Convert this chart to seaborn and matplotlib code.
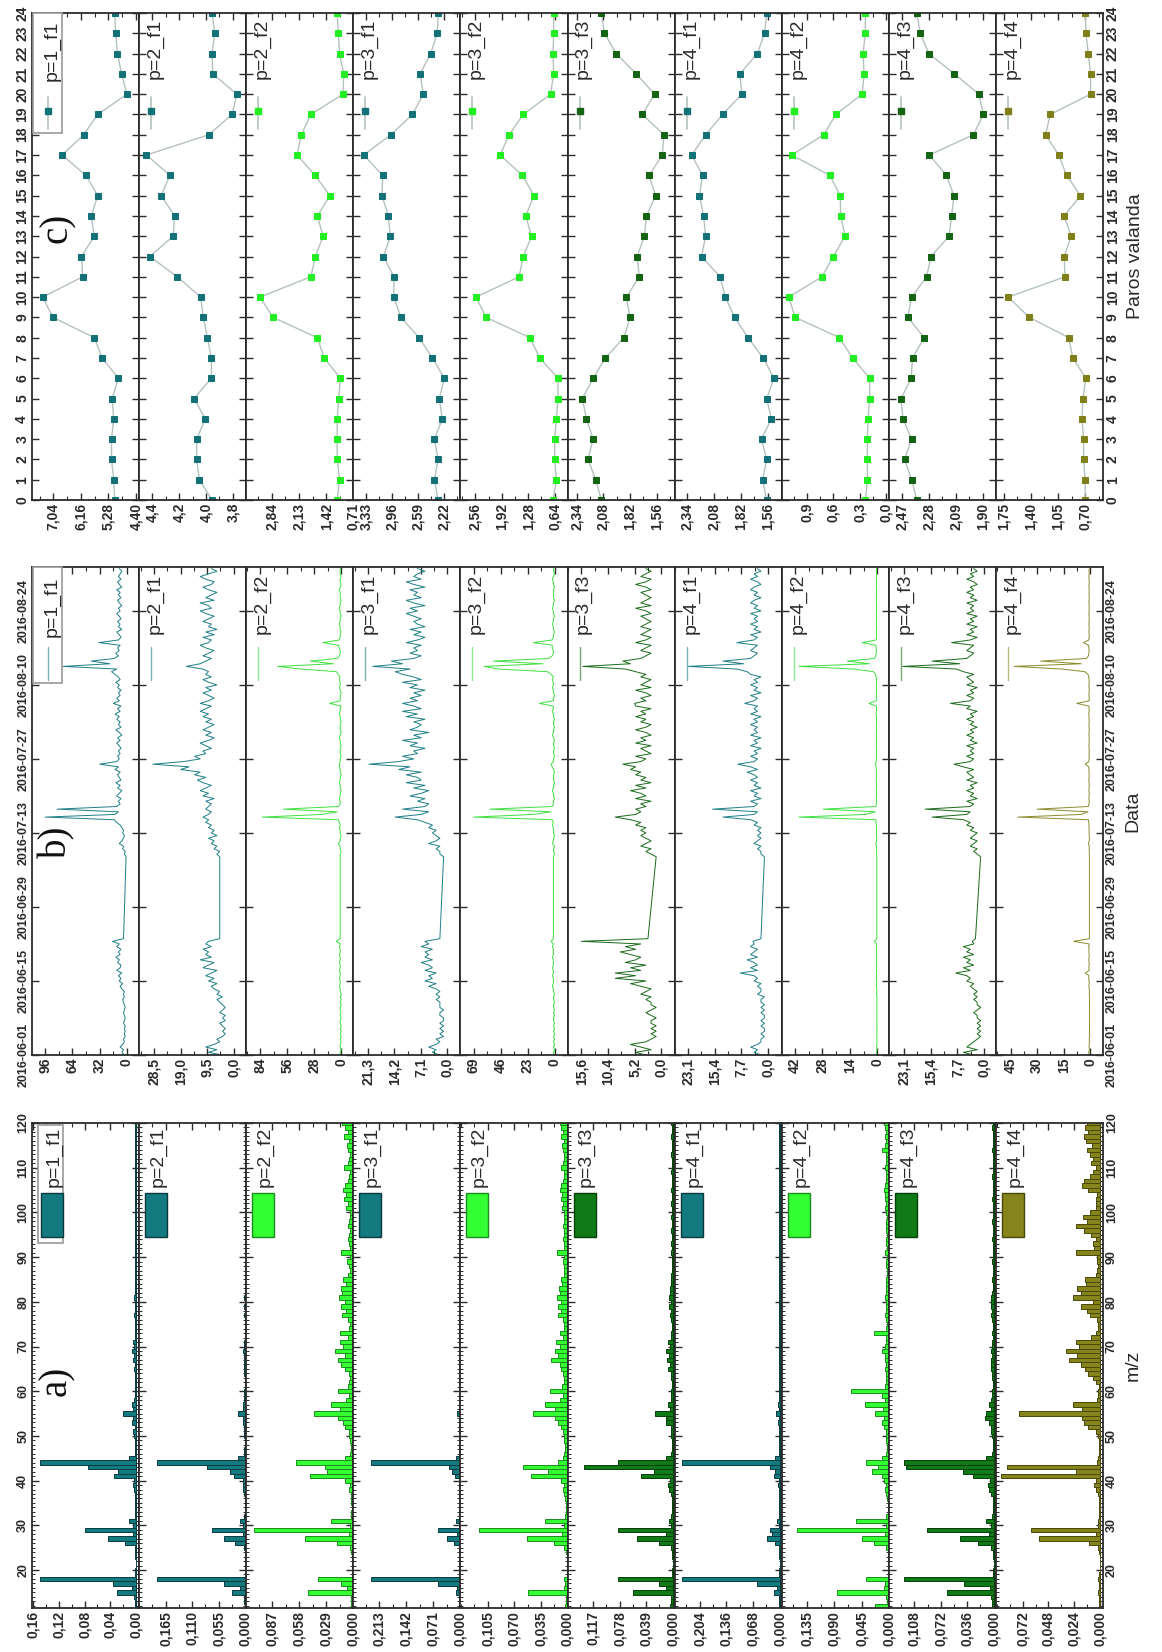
import numpy as np
import pandas as pd
import matplotlib
matplotlib.use("Agg")
import matplotlib.pyplot as plt
from matplotlib.patches import Rectangle
from matplotlib.ticker import AutoMinorLocator, MultipleLocator, NullLocator
import seaborn as sns

sns.set_style("ticks")
plt.rcParams["font.family"] = ["Liberation Sans", "DejaVu Sans"]
plt.rcParams["axes.linewidth"] = 1.3
plt.rcParams["axes.edgecolor"] = "#2b2b2b"

# ---------------- factor names ----------------
factor_names = ["p=1_f1", "p=2_f1", "p=2_f2", "p=3_f1", "p=3_f2",
                "p=3_f3", "p=4_f1", "p=4_f2", "p=4_f3", "p=4_f4"]
factor_kind = ["f1", "f1", "f2", "f1", "f2", "f3", "f1", "f2", "f3", "f4"]

bar_face = {"f1": "#137a80", "f2": "#33ff33", "f3": "#0f7a16", "f4": "#85851c"}
bar_edge = {"f1": "#0a3a3e", "f2": "#1c8c1c", "f3": "#063f0a", "f4": "#48480a"}
line_col = {"f1": "#1f7f86", "f2": "#3fe03f", "f3": "#1b6a1b", "f4": "#8b8b2c"}
mark_col = {"f1": "#137278", "f2": "#22ee22", "f3": "#146414", "f4": "#80801a"}

# ---------------- a) factor mass spectra ----------------
mz = list(range(12, 121))
spec_p1_f1 = [.001, .002, .003, .030, .006, .036, .150, .001, .001, .000,
              .000, .001, .001, .002, .017, .044, .004, .080, .004, .011,
              .002, .001, .001, .001, .001, .002, .003, .004, .003, .034,
              .028, .075, .150, .010, .002, .001, .001, .001, .003, .004,
              .002, .006, .004, .020, .004, .006, .003, .002, .002, .001,
              .001, .002, .002, .003, .002, .004, .003, .006, .003, .004,
              .001, .002, .001, .001, .001, .003, .001, .002, .002, .003,
              .002, .002, .001, .002, .001, .001, .001, .001, .001, .002,
              .001, .001, .001, .001, .001, .001, .001, .001, .001, .001,
              .001, .001, .001, .001, .001, .001, .001, .001, .001, .001,
              .001, .001, .001, .001, .001, .001, .001, .001, .001]
spec_p2_f1 = [.001, .002, .003, .028, .010, .045, .182, .001, .001, .000,
              .000, .001, .001, .002, .021, .045, .005, .069, .004, .010,
              .002, .001, .001, .001, .001, .002, .004, .005, .004, .024,
              .031, .079, .182, .014, .003, .002, .001, .001, .002, .003,
              .002, .005, .004, .016, .004, .005, .003, .002, .002, .001,
              .001, .001, .002, .002, .002, .003, .002, .004, .002, .003,
              .001, .001, .001, .001, .001, .002, .001, .002, .001, .002,
              .001, .001, .001, .001, .001, .001, .001, .001, .001, .001,
              .001, .001, .001, .001, .001, .001, .001, .001, .001, .001,
              .001, .001, .001, .001, .001, .001, .001, .001, .001, .001,
              .001, .001, .001, .001, .001, .001, .001, .001, .001]
spec_p2_f2 = [.003, .002, .002, .049, .007, .013, .038, .001, .001, .001,
              .000, .001, .002, .004, .018, .052, .005, .107, .004, .024,
              .003, .002, .001, .002, .002, .003, .005, .004, .009, .047,
              .028, .030, .062, .009, .004, .003, .003, .004, .005, .005,
              .009, .011, .016, .042, .014, .024, .008, .005, .016, .006,
              .005, .004, .005, .009, .013, .016, .009, .020, .011, .014,
              .006, .014, .005, .004, .006, .012, .008, .013, .009, .015,
              .012, .013, .008, .011, .006, .004, .005, .007, .004, .013,
              .004, .005, .006, .005, .004, .006, .005, .004, .004, .008,
              .006, .010, .008, .011, .009, .006, .005, .004, .010, .006,
              .005, .004, .006, .007, .005, .010, .006, .009, .012]
spec_p3_f1 = [.001, .002, .003, .010, .008, .058, .234, .001, .001, .000,
              .000, .001, .001, .002, .015, .034, .008, .058, .003, .010,
              .002, .001, .001, .001, .001, .002, .003, .004, .003, .012,
              .020, .029, .234, .010, .002, .001, .001, .001, .002, .003,
              .002, .004, .003, .008, .003, .004, .002, .001, .001, .001,
              .001, .001, .001, .002, .001, .002, .002, .003, .002, .002,
              .001, .001, .001, .001, .001, .001, .001, .001, .001, .002,
              .001, .001, .001, .001, .001, .001, .001, .001, .001, .001,
              .001, .001, .001, .001, .001, .001, .001, .001, .001, .001,
              .001, .001, .001, .001, .001, .001, .001, .001, .001, .001,
              .001, .001, .001, .001, .001, .001, .001, .001, .001]
spec_p3_f2 = [.003, .002, .002, .052, .004, .003, .005, .001, .001, .001,
              .000, .001, .002, .005, .018, .053, .007, .116, .005, .029,
              .003, .002, .002, .002, .003, .004, .006, .005, .008, .048,
              .026, .059, .012, .006, .004, .003, .003, .004, .005, .006,
              .008, .012, .016, .046, .017, .030, .010, .006, .023, .007,
              .005, .005, .006, .008, .010, .022, .012, .017, .010, .015,
              .006, .010, .005, .005, .006, .012, .008, .013, .008, .014,
              .010, .011, .007, .008, .005, .004, .005, .006, .004, .014,
              .004, .005, .006, .005, .004, .006, .005, .004, .004, .007,
              .006, .009, .007, .010, .008, .006, .005, .004, .009, .006,
              .005, .004, .006, .007, .005, .009, .006, .008, .010]
spec_p3_f3 = [.004, .002, .003, .058, .010, .020, .081, .001, .001, .000,
              .000, .001, .001, .003, .020, .053, .010, .081, .003, .005,
              .002, .001, .001, .001, .001, .002, .005, .006, .004, .047,
              .028, .131, .081, .010, .002, .001, .001, .001, .002, .003,
              .003, .010, .010, .026, .004, .006, .003, .002, .002, .001,
              .001, .002, .002, .006, .004, .008, .005, .010, .004, .006,
              .002, .002, .001, .001, .002, .004, .002, .005, .003, .005,
              .004, .004, .002, .003, .002, .001, .001, .001, .001, .002,
              .001, .002, .001, .001, .002, .001, .001, .002, .001, .001,
              .002, .001, .001, .002, .001, .001, .001, .002, .001, .001,
              .001, .002, .001, .001, .001, .002, .001, .001, .002]
spec_p4_f1 = [.001, .002, .003, .015, .008, .059, .250, .001, .001, .000,
              .000, .001, .001, .002, .012, .033, .020, .026, .003, .008,
              .002, .001, .001, .001, .001, .002, .003, .004, .003, .015,
              .012, .025, .250, .012, .002, .001, .001, .001, .002, .003,
              .002, .004, .003, .010, .003, .004, .002, .001, .001, .001,
              .001, .001, .001, .002, .001, .002, .002, .003, .002, .002,
              .001, .001, .001, .001, .001, .001, .001, .001, .001, .001,
              .001, .001, .001, .001, .001, .001, .001, .001, .001, .001,
              .001, .001, .001, .001, .001, .001, .001, .001, .001, .001,
              .001, .001, .001, .001, .001, .001, .001, .001, .001, .001,
              .001, .001, .001, .001, .001, .001, .001, .001, .001]
spec_p4_f2 = [.022, .003, .004, .085, .008, .006, .037, .001, .001, .001,
              .000, .001, .002, .004, .025, .045, .006, .152, .005, .055,
              .004, .002, .002, .002, .003, .004, .006, .005, .008, .012,
              .027, .018, .037, .012, .004, .003, .003, .004, .005, .005,
              .008, .012, .008, .022, .010, .040, .006, .012, .062, .006,
              .004, .004, .005, .006, .005, .007, .006, .012, .006, .005,
              .004, .025, .004, .003, .004, .006, .004, .005, .004, .006,
              .005, .005, .004, .004, .003, .003, .004, .004, .003, .006,
              .003, .004, .004, .003, .004, .005, .004, .003, .004, .006,
              .005, .007, .006, .008, .006, .004, .005, .004, .006, .005,
              .004, .005, .012, .006, .004, .007, .005, .006, .008]
spec_p4_f3 = [.002, .002, .003, .064, .005, .041, .122, .001, .001, .000,
              .000, .001, .001, .003, .021, .046, .006, .091, .003, .010,
              .002, .001, .001, .001, .001, .003, .006, .008, .005, .028,
              .042, .120, .122, .010, .002, .001, .001, .001, .002, .004,
              .004, .006, .012, .010, .004, .006, .003, .002, .002, .001,
              .001, .002, .002, .003, .004, .003, .002, .003, .002, .002,
              .001, .002, .001, .001, .002, .003, .002, .003, .004, .003,
              .002, .001, .001, .002, .001, .001, .001, .002, .001, .001,
              .001, .001, .002, .001, .001, .001, .002, .001, .001, .001,
              .001, .002, .001, .001, .001, .001, .002, .001, .001, .001,
              .001, .001, .002, .001, .001, .001, .001, .002, .001]
spec_p4_f4 = [.001, .001, .001, .002, .001, .001, .002, .001, .000, .000,
              .000, .000, .001, .002, .010, .057, .004, .064, .002, .002,
              .001, .001, .001, .001, .001, .002, .004, .005, .004, .092,
              .022, .087, .003, .002, .001, .001, .001, .001, .002, .004,
              .011, .015, .017, .075, .017, .025, .003, .002, .002, .001,
              .004, .006, .011, .014, .018, .029, .021, .032, .019, .022,
              .008, .004, .002, .002, .003, .009, .012, .018, .006, .025,
              .018, .021, .013, .014, .004, .003, .002, .003, .003, .022,
              .005, .006, .004, .008, .015, .022, .012, .016, .009, .004,
              .004, .004, .003, .011, .017, .015, .009, .006, .004, .008,
              .006, .009, .012, .007, .013, .015, .011, .014, .012]
spectra = [spec_p1_f1, spec_p2_f1, spec_p2_f2, spec_p3_f1, spec_p3_f2,
           spec_p3_f3, spec_p4_f1, spec_p4_f2, spec_p4_f3, spec_p4_f4]
spec_ticks = [[0, .04, .08, .12, .16], [0, .055, .110, .165], [0, .029, .058, .087],
              [0, .071, .142, .213], [0, .035, .070, .105], [0, .039, .078, .117],
              [0, .068, .136, .204], [0, .045, .090, .135], [0, .036, .072, .108],
              [0, .024, .048, .072]]
spec_dec = [2, 3, 3, 3, 3, 3, 3, 3, 3, 3]
spec_lim = [(-.005, .162), (-.002, .220), (0, .115), (-.001, .281), (0, .141),
            (-.003, .155), (-.005, .268), (0, .177), (-.003, .143), (-.003, .097)]
mz_ticks = [20, 30, 40, 50, 60, 70, 80, 90, 100, 110, 120]

# ---------------- b) factor time series ----------------
ts_start = pd.Timestamp("2016-06-01")
days_first = np.arange(0.0, 22.01, 0.5)      # 1 June .. 23 June
days_second = np.arange(37.5, 92.01, 0.5)    # 8 July .. 1 September
ts_days = np.concatenate([days_first, days_second])

ts_p1_f1 = [3, 6, 4, 8, 5, 3, 4, 2, 3, 2, 3, 2, 4, 3, 2, 3, 4, 3, 2, 3,
            4, 5, 3, 4, 3, 6, 8, 5, 9, 7, 10, 6, 12, 8, 7, 11, 9, 13, 8, 10,
            7, 12, 9, 17, 4,
            1, 3, 2, 5, 4, 9, 6, 4, 3, 5, 4, 6, 8, 12, 15, 96, 14, 10, 82, 12,
            8, 10, 7, 12, 9, 6, 11, 8, 13, 7, 9, 11, 8, 14, 10, 32, 12, 9, 11, 8,
            10, 7, 9, 12, 8, 11, 6, 9, 13, 7, 10, 8, 12, 9, 14, 8, 11, 7, 16, 9,
            12, 8, 10, 7, 11, 9, 13, 8, 10, 14, 18, 12, 75, 20, 42, 15, 10, 13, 9, 11,
            8, 33, 10, 7, 9, 12, 6, 10, 8, 11, 7, 9, 12, 8, 10, 6, 9, 11, 7, 10,
            8, 12, 6, 9, 11, 7, 10, 8, 6, 9]
ts_p2_f1 = [4, 9, 6, 10, 7, 5, 6, 4, 3, 4, 3, 4, 5, 3, 4, 3, 5, 4, 3, 4,
            5, 6, 4, 6, 5, 7, 8, 6, 9, 7, 10, 8, 6, 11, 9, 7, 12, 8, 10, 9,
            11, 8, 10, 9, 5,
            5, 6, 5, 7, 6, 8, 7, 9, 6, 8, 7, 9, 8, 10, 9, 11, 9, 8, 10, 9,
            8, 10, 7, 11, 9, 12, 10, 8, 11, 13, 10, 14, 12, 19, 16, 29, 18, 12, 14, 10,
            11, 8, 10, 12, 9, 7, 10, 8, 11, 9, 7, 10, 8, 11, 9, 12, 10, 8, 12, 9,
            7, 9, 11, 8, 10, 6, 9, 11, 8, 10, 9, 11, 17, 12, 10, 8, 11, 9, 7, 10,
            12, 9, 8, 11, 7, 10, 6, 9, 8, 11, 9, 7, 10, 12, 8, 9, 12, 7, 10, 8,
            6, 9, 11, 8, 7, 10, 12, 9, 6, 8]
ts_p2_f2 = [1, 1, 0, 1, 1, 0, 1, 0, 1, 0, 1, 0, 1, 1, 0, 1, 0, 1, 1, 0,
            1, 0, 1, 0, 1, 1, 2, 1, 1, 2, 1, 1, 2, 1, 1, 2, 1, 1, 2, 1,
            1, 2, 1, 5, 1,
            1, 1, 0, 1, 1, 3, 1, 1, 0, 1, 1, 2, 1, 2, 3, 82, 20, 4, 60, 3,
            1, 1, 2, 1, 1, 0, 1, 1, 2, 1, 1, 0, 1, 1, 2, 2, 1, 1, 0, 1,
            1, 1, 0, 1, 1, 2, 1, 0, 1, 1, 1, 0, 1, 1, 2, 1, 1, 0, 12, 1,
            1, 1, 0, 1, 2, 1, 1, 2, 1, 3, 5, 42, 66, 8, 32, 4, 2, 1, 1, 2,
            3, 19, 2, 1, 1, 0, 1, 1, 2, 1, 1, 0, 1, 1, 2, 1, 1, 0, 1, 1,
            1, 2, 1, 0, 1, 1, 0, 1, 1, 1]
ts_p3_f1 = [2, 4, 3, 5, 3, 2, 3, 1, 2, 1, 2, 1, 2, 1, 1, 2, 2, 1, 2, 2,
            2, 3, 2, 3, 2, 3, 5, 3, 6, 4, 5, 3, 6, 4, 5, 7, 4, 6, 5, 6,
            4, 7, 5, 6, 2,
            1, 2, 2, 3, 2, 5, 3, 2, 3, 4, 3, 5, 4, 6, 8, 14, 7, 5, 12, 6,
            5, 8, 6, 10, 7, 5, 9, 6, 11, 7, 8, 11, 7, 13, 10, 21, 13, 9, 12, 8,
            9, 6, 10, 8, 12, 7, 9, 5, 10, 8, 7, 9, 6, 11, 8, 12, 7, 9, 12, 8,
            10, 7, 9, 6, 10, 8, 12, 7, 9, 12, 14, 10, 20, 12, 15, 9, 7, 10, 8, 9,
            7, 11, 8, 6, 9, 7, 10, 6, 8, 9, 7, 9, 11, 8, 10, 6, 9, 11, 7, 9,
            8, 10, 6, 9, 11, 7, 9, 8, 6, 8]
ts_p3_f2 = [1, 1, 0, 1, 0, 1, 0, 1, 0, 1, 0, 1, 0, 1, 1, 0, 1, 0, 1, 1,
            0, 1, 1, 0, 1, 1, 2, 1, 1, 1, 2, 1, 1, 2, 1, 1, 1, 2, 1, 1,
            1, 2, 1, 3, 1,
            1, 0, 1, 1, 0, 2, 1, 1, 0, 1, 1, 1, 2, 1, 2, 69, 18, 3, 55, 2,
            1, 1, 0, 1, 1, 2, 1, 1, 0, 1, 1, 1, 0, 1, 2, 3, 1, 1, 0, 1,
            1, 0, 1, 1, 0, 1, 2, 1, 1, 0, 1, 1, 0, 1, 1, 2, 1, 1, 13, 1,
            1, 0, 1, 1, 2, 1, 1, 2, 1, 3, 6, 48, 60, 10, 52, 5, 2, 1, 1, 2,
            2, 18, 2, 1, 1, 0, 1, 1, 2, 1, 1, 0, 1, 1, 2, 1, 1, 0, 1, 1,
            1, 1, 0, 1, 1, 2, 1, 0, 1, 1]
ts_p3_f3 = [3, 5, 2, 4, 6, 3, 2, 1, 2, 1, 2, 1, 2, 2, 1, 2, 3, 2, 1, 2,
            2, 3, 2, 4, 3, 2, 4, 6, 3, 9, 5, 9, 4, 6, 3, 7, 5, 4, 6, 8,
            5, 7, 4, 15.6, 2.6,
            1, 2, 3, 2, 4, 3, 2, 3, 4, 3, 4, 3, 5, 4, 6, 9, 5, 4, 5, 3,
            4, 2, 5, 3, 4, 6, 3, 5, 2, 4, 3, 5, 4, 6, 5, 7.5, 4, 3, 5, 2,
            3, 4, 2, 5, 3, 4, 2, 3, 5, 3, 2, 4, 3, 5, 3, 4, 2, 5, 5.2, 3,
            4, 2, 3, 5, 2, 4, 3, 2, 4, 3, 5, 7, 15.3, 6, 7.5, 4, 3, 2, 4, 3,
            2, 5, 3, 2, 4, 3, 2, 4, 3, 2, 3, 4, 2, 3, 5, 2, 4, 3, 2, 3,
            4, 2, 3, 5, 3, 2, 4, 3, 2, 3]
ts_p4_f1 = [2, 4, 3, 5, 3, 2, 2, 1, 2, 1, 1, 2, 1, 2, 1, 1, 2, 1, 2, 1,
            2, 2, 1, 3, 2, 2, 3, 2, 4, 3, 4, 8, 3, 5, 3, 4, 6, 3, 5, 4,
            3, 5, 4, 4.3, 2,
            1, 2, 2, 3, 2, 4, 3, 2, 3, 2, 3, 2, 4, 3, 5, 13, 4, 3, 16, 4,
            3, 5, 2, 4, 3, 5, 2, 4, 3, 5, 3, 4, 6, 3, 5, 8.7, 4, 3, 5, 3,
            4, 2, 5, 3, 4, 2, 5, 3, 4, 3, 5, 3, 4, 2, 5, 3, 4, 3, 6.7, 4,
            3, 5, 2, 4, 3, 5, 3, 4, 2, 5, 6, 9, 23, 7, 13, 5, 4, 3, 5, 4,
            3, 9, 4, 3, 5, 2, 4, 3, 5, 3, 4, 3, 5, 2, 4, 3, 5, 4, 2, 4,
            3, 5, 4, 2, 3, 5, 3, 4, 2, 3]
ts_p4_f2 = [.3, .5, .2, .4, .3, .2, .3, .2, .3, .2, .3, .2, .3, .3, .2, .3, .2, .3, .3, .2,
            .3, .2, .3, .4, .3, .3, .5, .4, .3, .5, .4, .6, .3, .5, .4, .3, .5, .4, .3, .5,
            .4, .5, .3, 1.5, .3,
            .3, .4, .3, .5, .4, .8, .4, .3, .4, .5, .4, .6, .5, .7, .8, 40, 6, 1, 27.5, .8,
            .5, .4, .6, .5, .4, .6, .5, .4, .5, .6, .5, .4, .6, .5, .7, 1.2, .6, .5, .4, .5,
            .4, .5, .6, .4, .5, .4, .6, .5, .4, .5, .6, .4, .5, .5, .7, .5, .4, .6, 4.3, .5,
            .4, .6, .5, .4, .5, .6, .4, .5, .6, 1, 2, 12, 40, 4, 15.4, 1.5, .8, .6, .5, .6,
            .8, 7.7, .6, .5, .4, .6, .5, .4, .6, .5, .4, .5, .6, .4, .5, .4, .6, .5, .4, .5,
            .5, .4, .6, .5, .4, .5, .6, .4, .5, .4]
ts_p4_f3 = [3, 6, 2, 5, 4, 3, 2, 1, 2, 1, 2, 1, 2, 1, 2, 2, 3, 2, 1, 2,
            2, 3, 2, 3, 2, 3, 4, 3, 5, 4, 5, 8.2, 4, 6, 3, 5, 4, 6, 3, 5,
            4, 6, 3, 3.4, 2.5,
            1, 2, 3, 2, 4, 3, 2, 4, 3, 2, 4, 3, 5, 4, 6, 15, 5, 4, 17, 4,
            3, 5, 2, 4, 3, 5, 3, 4, 2, 5, 3, 4, 5, 3, 6, 8.7, 4, 3, 5, 3,
            4, 3, 5, 2, 4, 3, 5, 3, 4, 2, 4, 3, 5, 3, 4, 2, 5, 4, 9.7, 4,
            3, 5, 3, 4, 2, 5, 3, 4, 5, 3, 6, 8, 23.5, 7, 15, 5, 4, 3, 5, 4,
            3, 9.4, 4, 2, 5, 3, 4, 2, 5, 3, 4, 2, 5, 3, 4, 3, 5, 2, 4, 3,
            5, 3, 4, 2, 3, 5, 3, 4, 2, 3]
ts_p4_f4 = [.5, .8, .4, .6, .5, .4, .5, .3, .4, .3, .4, .3, .4, .4, .3, .4, .3, .4, .4, .3,
            .4, .3, .4, .5, .4, .5, .7, .5, .6, .8, .6, 2.8, .5, .7, .6, .5, .8, .6, .5, .7,
            .6, .8, .5, 9.4, .4,
            .4, .5, .4, .6, .5, 1, .5, .4, .5, .6, .5, .7, .6, .8, 1, 41, 5, 1.2, 30, 1,
            .6, .5, .7, .6, .5, .7, .6, .5, .6, .7, .6, .5, .7, .6, .8, 2.8, .7, .6, .5, .6,
            .5, .6, .7, .5, .6, .5, .7, .6, .5, .6, .7, .5, .6, .6, .8, .6, .5, .7, 7.5, .6,
            .5, .7, .6, .5, .6, .7, .5, .6, .7, 1.2, 3, 16, 43, 5, 28, 2, 1, .7, .6, .7,
            .9, 3.8, .7, .6, .5, .7, .6, .5, .7, .6, .5, .6, .7, .5, .6, .5, .7, .6, .5, .6,
            .6, .5, .7, .6, .5, .6, .7, .5, .6, .5]
series = [ts_p1_f1, ts_p2_f1, ts_p2_f2, ts_p3_f1, ts_p3_f2,
          ts_p3_f3, ts_p4_f1, ts_p4_f2, ts_p4_f3, ts_p4_f4]
ts_ticks = [[0, 32, 64, 96], [0, 9.5, 19, 28.5], [0, 28, 56, 84], [0, 7.1, 14.2, 21.3],
            [0, 23, 46, 69], [0, 5.2, 10.4, 15.6], [0, 7.7, 15.4, 23.1], [0, 14, 28, 42],
            [0, 7.7, 15.4, 23.1], [0, 15, 30, 45]]
ts_dec = [0, 1, 0, 1, 0, 1, 1, 0, 1, 0]
ts_lim = [(-14.3, 111.5), (-4.5, 33.9), (-12.6, 98.7), (-3.5, 25.2), (-11, 80.3),
          (-2.6, 18.3), (-4.0, 27.0), (-5.8, 48.7), (-3.4, 27.5), (-7.3, 53.4)]
date_ticks = ["2016-06-01", "2016-06-15", "2016-06-29", "2016-07-13",
              "2016-07-27", "2016-08-10", "2016-08-24"]
ts_end_day = 92.3

# ---------------- c) diurnal cycles ----------------
hours = list(range(0, 25))
diu_p1_f1 = [5.08, 5.11, 5.18, 5.18, 5.11, 5.16, 4.96, 5.48, 5.73, 7.05, 7.38, 6.10, 6.14,
             5.73, 5.83, 5.62, 6.00, 6.76, 6.07, 5.62, 4.69, 4.86, 4.99, 5.05, 5.08]
diu_p2_f1 = [3.955, 4.05, 4.07, 4.07, 4.005, 4.09, 3.96, 3.96, 3.99, 4.02, 4.04, 4.215, 4.42,
             4.245, 4.235, 4.335, 4.27, 4.445, 3.98, 3.805, 3.77, 3.95, 3.955, 3.935, 3.955]
diu_p2_f2 = [1.13, 1.07, 1.13, 1.13, 1.13, 1.09, 1.05, 1.47, 1.65, 2.81, 3.15, 1.82, 1.70,
             1.50, 1.65, 1.32, 1.71, 2.18, 2.07, 1.82, 0.98, 0.96, 1.07, 1.10, 1.13]
diu_p3_f1 = [2.30, 2.35, 2.30, 2.35, 2.24, 2.28, 2.21, 2.38, 2.57, 2.83, 2.93, 2.93, 3.08,
             2.98, 3.01, 3.10, 3.09, 3.36, 2.975, 2.665, 2.51, 2.555, 2.405, 2.31, 2.295]
diu_p3_f2 = [0.68, 0.60, 0.64, 0.64, 0.60, 0.56, 0.56, 1.00, 1.24, 2.30, 2.54, 1.50, 1.40,
             1.20, 1.34, 1.14, 1.42, 1.96, 1.74, 1.40, 0.74, 0.664, 0.68, 0.664, 0.664]
diu_p3_f3 = [2.10, 2.155, 2.23, 2.18, 2.245, 2.285, 2.18, 2.06, 1.88, 1.82, 1.855, 1.73, 1.75,
             1.68, 1.66, 1.57, 1.635, 1.505, 1.49, 1.70, 1.58, 1.76, 1.955, 2.07, 2.10]
diu_p4_f1 = [1.57, 1.61, 1.57, 1.62, 1.525, 1.57, 1.50, 1.605, 1.75, 1.88, 1.97, 2.02, 2.20,
             2.16, 2.18, 2.22, 2.19, 2.295, 2.16, 1.996, 1.81, 1.83, 1.66, 1.59, 1.57]
diu_p4_f2 = [0.233, 0.21, 0.21, 0.21, 0.203, 0.184, 0.184, 0.38, 0.53, 1.035, 1.11, 0.73, 0.60,
             0.465, 0.515, 0.52, 0.64, 1.075, 0.71, 0.57, 0.27, 0.248, 0.26, 0.233, 0.233]
diu_p4_f3 = [2.364, 2.40, 2.45, 2.40, 2.461, 2.475, 2.403, 2.394, 2.313, 2.427, 2.40, 2.295, 2.265,
             2.138, 2.12, 2.104, 2.157, 2.276, 1.968, 1.897, 1.93, 2.10, 2.28, 2.34, 2.364]
diu_p4_f4 = [0.70, 0.70, 0.72, 0.72, 0.74, 0.73, 0.69, 0.86, 0.91, 1.42, 1.69, 0.96, 0.97,
             0.88, 0.97, 0.76, 0.94, 1.04, 1.21, 1.15, 0.63, 0.63, 0.66, 0.69, 0.70]
diurnal = [diu_p1_f1, diu_p2_f1, diu_p2_f2, diu_p3_f1, diu_p3_f2,
           diu_p3_f3, diu_p4_f1, diu_p4_f2, diu_p4_f3, diu_p4_f4]
diu_ticks = [[4.40, 5.28, 6.16, 7.04], [3.8, 4.0, 4.2, 4.4], [0.71, 1.42, 2.13, 2.84],
             [2.22, 2.59, 2.96, 3.33], [0.64, 1.28, 1.92, 2.56], [1.56, 1.82, 2.08, 2.34],
             [1.56, 1.82, 2.08, 2.34], [0.0, 0.3, 0.6, 0.9], [1.90, 2.09, 2.28, 2.47],
             [0.70, 1.05, 1.40, 1.75]]
diu_dec = [2, 1, 2, 2, 2, 2, 2, 1, 2, 2]
diu_lim = [(4.30, 7.72), (3.70, 4.50), (0.775, 3.51), (1.98, 3.51), (0.33, 2.92),
           (1.385, 2.43), (1.425, 2.46), (-0.035, 1.19), (1.81, 2.56), (0.47, 1.85)]

# ---------------- page layout (figure drawn turned on its side) ----------------
W, H = 1162, 1652
X0, X1 = 32, 1103
SW = (X1 - X0) / 10
fig = plt.figure(figsize=(W / 100, H / 100), dpi=100, facecolor="white")
TXT = "#2a2a2a"


def strip_axes(top, bottom):
    axs = []
    for i in range(10):
        left = X0 + i * SW
        axs.append(fig.add_axes([left / W, 1 - bottom / H, SW / W, (bottom - top) / H]))
    return axs


def comma(v, d):
    return f"{v:.{d}f}".replace(".", ",")


def style_value_axis(ax, ticks, dec, lim):
    ax.set_xlabel("")
    ax.set_xlim(lim[1], lim[0])
    ax.set_xticks(ticks, labels=[comma(t, dec) for t in ticks], rotation=90,
                  fontsize=10, fontweight="bold", color=TXT)
    ax.xaxis.set_minor_locator(AutoMinorLocator(2))
    ax.tick_params(axis="x", which="both", direction="in", top=True, bottom=True,
                   pad=2, color="#2b2b2b")
    ax.tick_params(axis="x", which="major", length=5, width=1)
    ax.tick_params(axis="x", which="minor", length=3, width=0.8)


def style_var_axis(ax, i, ticks, labels, lim, fs, minor=None, title=None):
    ax.set_ylabel("")
    ax.set_ylim(*lim)
    ax.set_yticks(ticks, labels=labels, rotation=90, va="center",
                  fontsize=fs, fontweight="bold", color=TXT)
    if minor:
        ax.yaxis.set_minor_locator(MultipleLocator(minor))
    else:
        ax.yaxis.set_minor_locator(NullLocator())
    ax.tick_params(axis="y", which="both", direction="in", left=True, right=True,
                   labelleft=(i == 0), labelright=(i == 9), pad=2, color="#2b2b2b")
    ax.tick_params(axis="y", which="major", length=5, width=1)
    ax.tick_params(axis="y", which="minor", length=2.5, width=0.7)
    if i == 9 and title:
        ax.yaxis.set_label_position("right")
        ax.set_ylabel(title, fontsize=14, rotation=90, labelpad=5, color=TXT)


def legend_box(ax, block_h, x0, x1, y0, y1):
    ax.add_patch(Rectangle((x0 / SW, 1 - y1 / block_h), (x1 - x0) / SW, (y1 - y0) / block_h,
                           transform=ax.transAxes, facecolor="white", edgecolor="#9a9a9a",
                           lw=1.2, zorder=6, clip_on=False))


def legend_text(ax, block_h, name, cx, cy):
    ax.text(cx / SW, 1 - cy / block_h, name, transform=ax.transAxes, rotation=90,
            ha="center", va="center", fontsize=14, color=TXT, zorder=7)


# ---------------- c) diurnal block ----------------
c_top, c_bot = 13, 500
c_h = c_bot - c_top
axes_c = strip_axes(c_top, c_bot)
for i, ax in enumerate(axes_c):
    k = factor_kind[i]
    sns.lineplot(x=diurnal[i], y=hours, sort=False, estimator=None, orient="y",
                 color="#b4c2be", linewidth=1.0, marker="s", markersize=5,
                 markerfacecolor=mark_col[k], markeredgecolor=mark_col[k], ax=ax)
    style_value_axis(ax, diu_ticks[i], diu_dec[i], diu_lim[i])
    style_var_axis(ax, i, hours, [str(h) for h in hours], (0, 24), 10, title="Paros valanda")
    sh = 4 if i == 0 else 0
    if i == 0:
        legend_box(ax, c_h, 1, 30, 0, 120)
    ax.plot([(12 + sh) / SW] * 2, [1 - 84 / c_h, 1 - 116 / c_h], transform=ax.transAxes,
            color="#b4c2be", lw=1.2, zorder=7, clip_on=False)
    ax.plot([(12 + sh) / SW], [1 - 98 / c_h], transform=ax.transAxes, marker="s",
            markersize=5, color=mark_col[k], zorder=8, clip_on=False)
    legend_text(ax, c_h, factor_names[i], 16 + sh, 38 if i == 0 else 36)
axes_c[0].text((57 - X0) / SW, (c_bot - 228) / c_h, "c)", transform=axes_c[0].transAxes,
               rotation=90, ha="center", va="center", fontsize=28,
               family=["Liberation Serif", "DejaVu Serif"], color="#111111")

# ---------------- b) time series block ----------------
b_top, b_bot = 567, 1055
b_h = b_bot - b_top
axes_b = strip_axes(b_top, b_bot)
date_pos = [(pd.Timestamp(d) - ts_start).days for d in date_ticks]
for i, ax in enumerate(axes_b):
    k = factor_kind[i]
    sns.lineplot(x=series[i], y=ts_days, sort=False, estimator=None, orient="y",
                 color=line_col[k], linewidth=0.7, ax=ax)
    style_value_axis(ax, ts_ticks[i], ts_dec[i], ts_lim[i])
    style_var_axis(ax, i, date_pos, date_ticks, (0, ts_end_day), 9, title="Data")
    sh = 4 if i == 0 else 0
    if i == 0:
        legend_box(ax, b_h, 1, 30, 0, 116)
    ax.plot([(12 + sh) / SW] * 2, [1 - 80 / b_h, 1 - 113 / b_h], transform=ax.transAxes,
            color=line_col[k], lw=1.0, alpha=0.6, zorder=7, clip_on=False)
    legend_text(ax, b_h, factor_names[i], 16 + sh, 40 if i == 0 else 37)
axes_b[0].text((57 - X0) / SW, (b_bot - 842) / b_h, "b)", transform=axes_b[0].transAxes,
               rotation=90, ha="center", va="center", fontsize=28,
               family=["Liberation Serif", "DejaVu Serif"], color="#111111")

# ---------------- a) mass spectra block ----------------
a_top, a_bot = 1123, 1608
a_h = a_bot - a_top
axes_a = strip_axes(a_top, a_bot)
for i, ax in enumerate(axes_a):
    k = factor_kind[i]
    df = pd.DataFrame({"mz": mz, "frac": spectra[i]})
    sns.barplot(data=df, x="frac", y="mz", orient="h", native_scale=True, width=1.0,
                color=bar_face[k], saturation=1, edgecolor=bar_edge[k], linewidth=0.7,
                errorbar=None, ax=ax)
    style_value_axis(ax, spec_ticks[i], spec_dec[i], spec_lim[i])
    style_var_axis(ax, i, mz_ticks, [str(t) for t in mz_ticks], (11.5, 120), 9,
                   minor=1, title="m/z")
    sh = 3 if i == 0 else 0
    if i == 0:
        legend_box(ax, a_h, 6, 31, 2, 120)
    ax.add_patch(Rectangle(((6 + sh) / SW, 1 - 114 / a_h), 22 / SW, 44 / a_h,
                           transform=ax.transAxes, facecolor=bar_face[k],
                           edgecolor=bar_edge[k], lw=1.0, zorder=7, clip_on=False))
    legend_text(ax, a_h, factor_names[i], 19 + sh, 34)
axes_a[0].text((57 - X0) / SW, (a_bot - 1381) / a_h, "a)", transform=axes_a[0].transAxes,
               rotation=90, ha="center", va="center", fontsize=28,
               family=["Liberation Serif", "DejaVu Serif"], color="#111111")

fig.savefig("out.png", dpi=100, facecolor="white")
